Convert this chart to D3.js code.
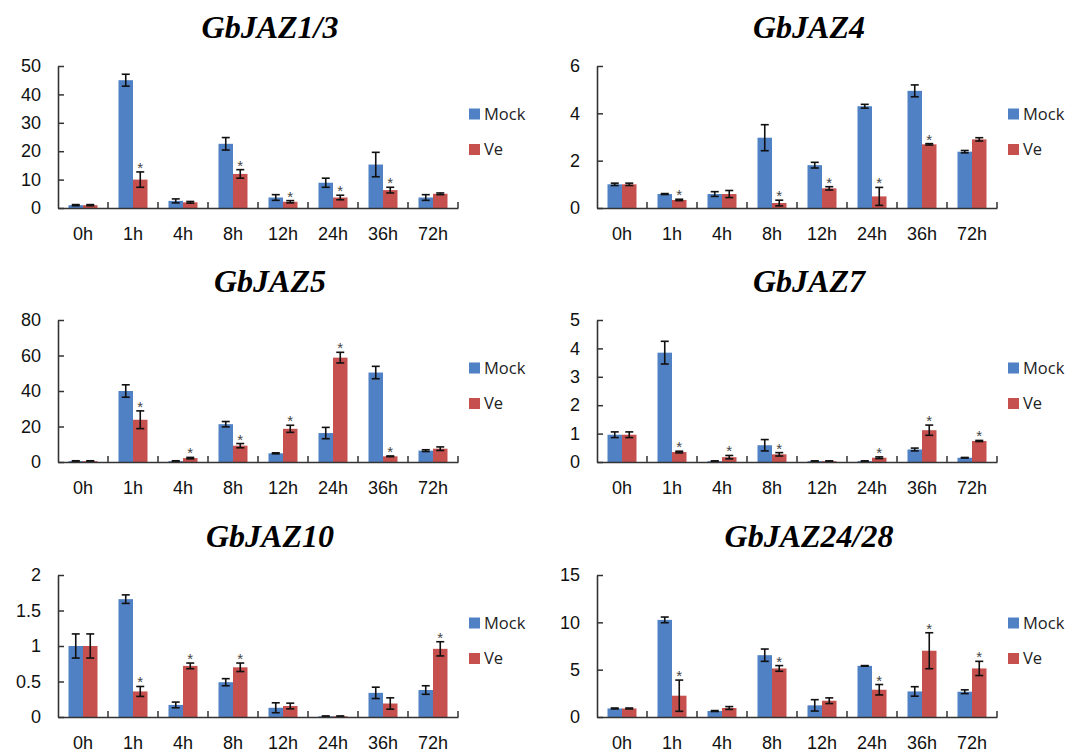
<!DOCTYPE html>
<html>
<head>
<meta charset="utf-8">
<script src="https://cdn.jsdelivr.net/npm/d3@7"></script>
<style>
  body { margin: 0; background: #fff; }
</style>
</head>
<body>
<div id="chart"></div>
<script>
// time points and genes
var timepoints = ["0h", "1h", "4h", "8h", "12h", "24h", "36h", "72h"];
var genes = ["GbJAZ1/3", "GbJAZ4", "GbJAZ5", "GbJAZ7", "GbJAZ10", "GbJAZ24/28"];
var series = ["Mock", "Ve"];

// y axis ticks for each gene
var yTicks = [
  [0, 10, 20, 30, 40, 50],
  [0, 2, 4, 6],
  [0, 20, 40, 60, 80],
  [0, 1, 2, 3, 4, 5],
  [0, 0.5, 1, 1.5, 2],
  [0, 5, 10, 15]
];

// relative expression
var jaz13Mock = [1.0, 45, 2.5, 22.6, 3.7, 8.9, 15.3, 3.7];
var jaz13MockErr = [0.2, 2.1, 0.7, 2.2, 1.0, 1.6, 4.3, 1.0];
var jaz13Ve = [1.0, 10.0, 2.0, 12.0, 2.2, 3.7, 6.3, 5.0];
var jaz13VeErr = [0.2, 2.7, 0.3, 1.5, 0.4, 0.8, 1.0, 0.3];
var jaz13Star = [1, 3, 4, 5, 6];

var jaz4Mock = [1.0, 0.59, 0.59, 2.97, 1.81, 4.3, 4.95, 2.38];
var jaz4MockErr = [0.05, 0.02, 0.1, 0.55, 0.12, 0.08, 0.25, 0.05];
var jaz4Ve = [1.0, 0.34, 0.59, 0.21, 0.83, 0.49, 2.69, 2.9];
var jaz4VeErr = [0.05, 0.03, 0.15, 0.12, 0.07, 0.38, 0.03, 0.07];
var jaz4Star = [1, 3, 4, 5, 6];

var jaz5Mock = [0.5, 40, 0.5, 21.3, 4.9, 16.3, 50.4, 6.4];
var jaz5MockErr = [0.2, 3.5, 0.2, 1.5, 0.3, 3.2, 3.5, 0.5];
var jaz5Ve = [0.5, 23.8, 2.2, 9.2, 18.7, 58.8, 3.2, 7.5];
var jaz5VeErr = [0.2, 5, 0.4, 1.2, 2, 3, 0.2, 1];
var jaz5Star = [1, 2, 3, 4, 5, 6];

var jaz7Mock = [0.96, 3.85, 0.03, 0.59, 0.03, 0.03, 0.44, 0.15];
var jaz7MockErr = [0.1, 0.4, 0.01, 0.2, 0.01, 0.01, 0.05, 0.01];
var jaz7Ve = [0.96, 0.35, 0.17, 0.27, 0.03, 0.15, 1.12, 0.74];
var jaz7VeErr = [0.1, 0.03, 0.06, 0.06, 0.01, 0.03, 0.18, 0.02];
var jaz7Star = [1, 2, 3, 5, 6, 7];

var jaz10Mock = [1.0, 1.66, 0.17, 0.49, 0.13, 0.01, 0.34, 0.38];
var jaz10MockErr = [0.17, 0.06, 0.04, 0.05, 0.07, 0.005, 0.08, 0.06];
var jaz10Ve = [1.0, 0.36, 0.72, 0.70, 0.155, 0.01, 0.19, 0.96];
var jaz10VeErr = [0.17, 0.07, 0.04, 0.06, 0.04, 0.005, 0.08, 0.1];
var jaz10Star = [1, 2, 3, 7];

var jaz2428Mock = [0.9, 10.26, 0.63, 6.53, 1.23, 5.4, 2.7, 2.67];
var jaz2428MockErr = [0.05, 0.3, 0.05, 0.65, 0.6, 0.03, 0.5, 0.2];
var jaz2428Ve = [0.9, 2.25, 0.95, 5.13, 1.72, 2.88, 7.0, 5.13];
var jaz2428VeErr = [0.05, 1.65, 0.15, 0.3, 0.3, 0.55, 1.9, 0.75];
var jaz2428Star = [1, 3, 5, 6, 7];

var panels = [
  [jaz13Mock, jaz13MockErr, jaz13Ve, jaz13VeErr, jaz13Star],
  [jaz4Mock, jaz4MockErr, jaz4Ve, jaz4VeErr, jaz4Star],
  [jaz5Mock, jaz5MockErr, jaz5Ve, jaz5VeErr, jaz5Star],
  [jaz7Mock, jaz7MockErr, jaz7Ve, jaz7VeErr, jaz7Star],
  [jaz10Mock, jaz10MockErr, jaz10Ve, jaz10VeErr, jaz10Star],
  [jaz2428Mock, jaz2428MockErr, jaz2428Ve, jaz2428VeErr, jaz2428Star]
];

var colors = { Mock: "#4F81C4", Ve: "#C6504E" };

var svg = d3.select("#chart").append("svg")
    .attr("width", 1079)
    .attr("height", 752);

var colX = [0, 539];
var rowBottom = [208, 462, 717];
var plotH = 142;
var axisL = 58, axisR = 458;

var x = d3.scaleBand().domain(timepoints).range([axisL, axisR]);
var xSub = d3.scaleBand().domain(series).range([0, 29]);

genes.forEach(function(gene, i) {
  var ox = colX[i % 2];
  var by = rowBottom[Math.floor(i / 2)];
  var g = svg.append("g").attr("transform", "translate(" + ox + "," + (by - plotH) + ")");
  var ticks = yTicks[i];
  var y = d3.scaleLinear().domain([0, ticks[ticks.length - 1]]).range([plotH, 0]);
  var p = panels[i];

  // title
  g.append("text")
    .attr("x", 270)
    .attr("y", -28)
    .attr("text-anchor", "middle")
    .style("font-family", "'Liberation Serif', 'Times New Roman', serif")
    .style("font-weight", "bold")
    .style("font-style", "italic")
    .style("font-size", "32px")
    .text(gene);

  var rows = [];
  timepoints.forEach(function(t, j) {
    rows.push({ t: t, s: "Mock", v: p[0][j], e: p[1][j], star: false });
    rows.push({ t: t, s: "Ve", v: p[2][j], e: p[3][j], star: p[4].indexOf(j) >= 0 });
  });
  var bx = function(d) { return x(d.t) + (x.bandwidth() - 29) / 2 + xSub(d.s); };

  g.selectAll("rect.bar")
    .data(rows)
    .enter().append("rect")
    .attr("class", "bar")
    .attr("x", bx)
    .attr("y", function(d) { return y(d.v); })
    .attr("width", xSub.bandwidth())
    .attr("height", function(d) { return plotH - y(d.v); })
    .attr("fill", function(d) { return colors[d.s]; });

  // error bars
  var eb = g.selectAll("g.err").data(rows).enter().append("g")
    .attr("stroke", "#111").attr("stroke-width", 1.6);
  eb.append("line")
    .attr("x1", function(d) { return bx(d) + xSub.bandwidth() / 2; })
    .attr("x2", function(d) { return bx(d) + xSub.bandwidth() / 2; })
    .attr("y1", function(d) { return y(Math.max(0, d.v - d.e)); })
    .attr("y2", function(d) { return y(d.v + d.e); });
  [-1, 1].forEach(function(sgn) {
    eb.append("line")
      .attr("x1", function(d) { return bx(d) + xSub.bandwidth() / 2 - 4; })
      .attr("x2", function(d) { return bx(d) + xSub.bandwidth() / 2 + 4; })
      .attr("y1", function(d) { return y(Math.max(0, d.v + sgn * d.e)); })
      .attr("y2", function(d) { return y(Math.max(0, d.v + sgn * d.e)); });
  });

  // significance stars
  g.selectAll("text.star")
    .data(rows.filter(function(d) { return d.star; }))
    .enter().append("text")
    .attr("x", function(d) { return bx(d) + xSub.bandwidth() / 2; })
    .attr("y", function(d) { return y(d.v + d.e) + 1; })
    .attr("text-anchor", "middle")
    .style("font-family", "'Liberation Sans', Arial, sans-serif")
    .style("font-size", "15px")
    .attr("fill", "#444")
    .text("*");

  // axes
  var yAxis = g.append("g")
    .attr("transform", "translate(" + axisL + ",0)")
    .call(d3.axisLeft(y).tickValues(ticks).tickFormat(function(d) { return d; })
      .tickSizeInner(-6).tickSizeOuter(0).tickPadding(17));
  var xAxis = g.append("g")
    .attr("transform", "translate(0," + plotH + ")")
    .call(d3.axisBottom(x).tickSize(0).tickPadding(19));
  // category separators (inside ticks)
  g.selectAll("line.sep")
    .data(d3.range(1, timepoints.length + 1))
    .enter().append("line")
    .attr("x1", function(k) { return axisL + k * x.step(); })
    .attr("x2", function(k) { return axisL + k * x.step(); })
    .attr("y1", plotH - 6)
    .attr("y2", plotH)
    .attr("stroke", "#333")
    .attr("stroke-width", 1.5);

  [yAxis, xAxis].forEach(function(a) {
    a.select(".domain").attr("stroke", "#333").attr("stroke-width", 1.6);
    a.selectAll(".tick line").attr("stroke", "#333").attr("stroke-width", 1.5);
    a.selectAll("text")
      .style("font-family", "'Liberation Sans', Arial, sans-serif")
      .style("font-size", "18px")
      .attr("fill", "#111");
  });

  // legend
  var legend = g.selectAll("g.legend")
    .data(series)
    .enter().append("g")
    .attr("transform", function(d, k) { return "translate(469," + (plotH / 2 - 23 + k * 35.5) + ")"; });
  legend.append("rect")
    .attr("x", 0).attr("y", -5.5)
    .attr("width", 11).attr("height", 11)
    .attr("fill", function(d) { return colors[d]; });
  legend.append("text")
    .attr("x", 15)
    .attr("dy", "0.35em")
    .style("font-family", "'Open Sans', 'Noto Sans', sans-serif")
    .style("font-size", "16.5px")
    .attr("fill", "#222")
    .text(function(d) { return d; });
});
</script>
</body>
</html>
